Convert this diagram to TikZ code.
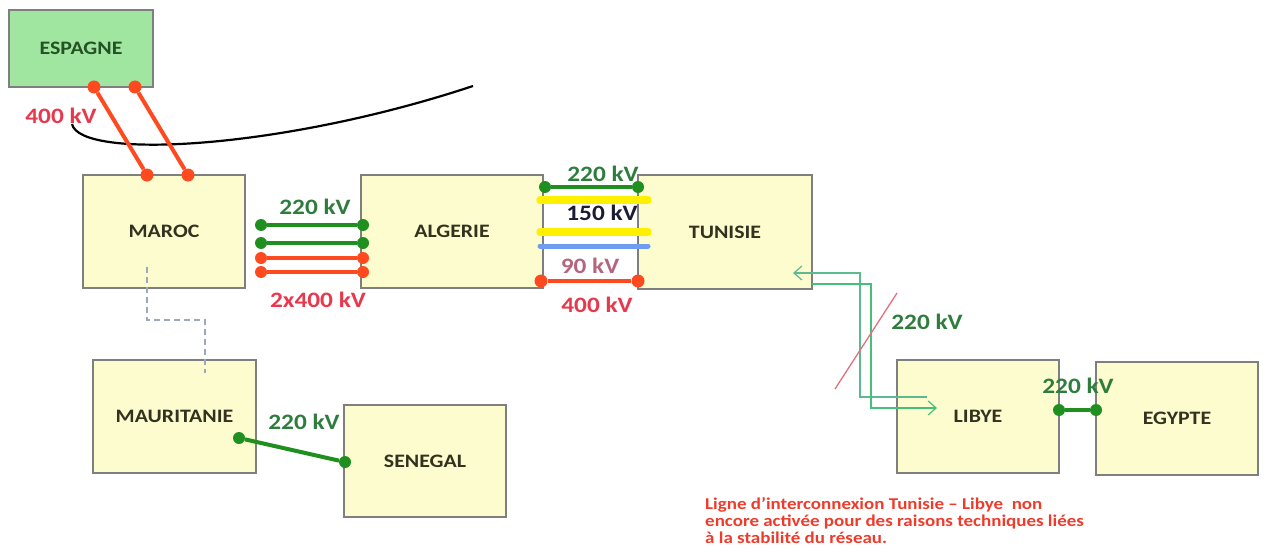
\documentclass[tikz,border=0pt]{standalone}
\usepackage{fontspec}
\setmainfont{Carlito}[FakeStretch=1.15]
\usetikzlibrary{arrows.meta,positioning,calc}
\definecolor{boxfill}{HTML}{FDFCCF}
\definecolor{boxline}{HTML}{7F7F7F}
\definecolor{spfill}{HTML}{A0E6A0}
\definecolor{boxtext}{HTML}{33321F}
\definecolor{sptext}{HTML}{245224}
\definecolor{hv}{HTML}{FF4A1F}
\definecolor{hvlab}{HTML}{E8384E}
\definecolor{mv}{HTML}{1F8F1F}
\definecolor{mvlab}{HTML}{2E7D3C}
\definecolor{yv}{HTML}{FFF000}
\definecolor{bv}{HTML}{6E9CF0}
\definecolor{lowlab}{HTML}{B5657E}
\definecolor{midlab}{HTML}{1B1B33}
\definecolor{dashc}{HTML}{9AA9BF}
\definecolor{arrA}{HTML}{5CBB8E}
\definecolor{arrB}{HTML}{45C07A}
\definecolor{cut}{HTML}{E0707E}
\definecolor{notec}{HTML}{EE3B2B}

\begin{document}
\begin{tikzpicture}[x=1pt,y=-1pt,
  pays/.style={draw=boxline,line width=1.5pt,fill=boxfill,minimum width=162pt,
               minimum height=113pt,inner sep=0pt,text=boxtext,
               font=\fontsize{19}{19}\selectfont\bfseries},
  kv/.style={inner sep=0pt,font=\fontsize{22}{22}\selectfont\bfseries},
  dotr/.style={circle,fill=hv,inner sep=0pt,minimum size=13pt},
  dotg/.style={circle,fill=mv,inner sep=0pt,minimum size=12pt},
  lr/.style={draw=hv,line width=4pt},
  lg/.style={draw=mv,line width=4pt},
  bar/.style={line width=7.5pt,line cap=round},
  pointille/.style={draw=dashc,line width=1.3pt,dash pattern=on 6pt off 4pt},
  fleche/.style={line width=1.2pt,-{Straight Barb[length=8pt,width=14pt]}}
]
\useasboundingbox (0,0) rectangle (1271,559);

% pays
\node[pays,fill=spfill,text=sptext,minimum width=144pt,minimum height=77pt] (espagne) at (81,48.5) {ESPAGNE};
\node[pays] (maroc) at (164,231.5) {MAROC};
\node[pays,minimum width=182pt] (algerie) at (452,231.5) {ALGERIE};
\node[pays,minimum width=174pt,minimum height=114pt] (tunisie) at (725,232) {TUNISIE};
\node[pays,minimum width=163pt] (mauritanie) at (174.5,416.5) {MAURITANIE};
\node[pays,minimum height=112pt] (senegal) at (425,461) {SENEGAL};
\node[pays] (libye) at (978,416.5) {LIBYE};
\node[pays] (egypte) at (1177,418.5) {EGYPTE};

% Maroc - Mauritanie (pointille)
\coordinate (d0) at (147,267);
\coordinate (d1) at (205,373);
\draw[pointille] (d0) -- (147,320) -- (205,320) -- (d1);

% trait noir
\coordinate (k0) at (72,124);
\coordinate (k1) at (473,86);
\draw[line width=2.2pt] (k0) .. controls (80,160) and (280,150) .. (k1);

% Espagne - Maroc
\node[dotr] (e1) at (94,87) {};
\node[dotr] (e2) at (135,87) {};
\node[dotr] (m1) at (147,175) {};
\node[dotr] (m2) at (188,175) {};
\draw[lr] (e1) -- (m1);
\draw[lr] (e2) -- (m2);
\node[kv,text=hvlab] (l400e) at (61,116) {400 kV};

% Maroc - Algerie
\foreach \y/\c [count=\i] in {225/mv,243/mv,258/hv,272/hv} {
  \node[circle,fill=\c,inner sep=0pt,minimum size=12pt] (ma\i) at (261,\y) {};
  \node[circle,fill=\c,inner sep=0pt,minimum size=12pt] (am\i) at (363,\y) {};
  \draw[draw=\c,line width=4pt] (ma\i) -- (am\i);
}
\node[kv,text=mvlab] (l220ma) at (315,207) {220 kV};
\node[kv,text=hvlab] (l400ma) at (318,300) {2x400 kV};

% Algerie - Tunisie
\coordinate (y1a) at (540,200); \coordinate (y1b) at (648,200);
\coordinate (y2a) at (540,232); \coordinate (y2b) at (648,232);
\coordinate (b1a) at (540,246); \coordinate (b1b) at (648,246);
\draw[bar,yv] (y1a) -- (y1b);
\draw[bar,yv] (y2a) -- (y2b);
\draw[bar,bv,line width=5pt] (b1a) -- (b1b);
\node[dotg] (at1) at (545,187) {};
\node[dotg] (ta1) at (638,187) {};
\draw[lg] (at1) -- (ta1);
\node[dotr] (at2) at (541,281) {};
\node[dotr] (ta2) at (638,281) {};
\draw[lr] (at2) -- (ta2);
\node[kv,text=mvlab] (l220at) at (603,174) {220 kV};
\node[kv,text=midlab] (l150at) at (602,213) {150 kV};
\node[kv,text=lowlab] (l90at) at (590,266) {90 kV};
\node[kv,text=hvlab] (l400at) at (597,305) {400 kV};

% Mauritanie - Senegal
\node[dotg] (ms1) at (239,438) {};
\node[dotg] (ms2) at (345,462) {};
\draw[lg] (ms1) -- (ms2);
\node[kv,text=mvlab] (l220ms) at (304,422) {220 kV};

% Tunisie - Libye
\coordinate (tA) at (793,273); \coordinate (lA) at (927,397);
\coordinate (tB) at (812,284); \coordinate (lB) at (937,408);
\draw[fleche,arrA,{Straight Barb[length=8pt,width=14pt]}-] (tA) -- (860,273) -- (860,397) -- (lA);
\draw[fleche,arrB] (tB) -- (871,284) -- (871,408) -- (lB);
\coordinate (c1) at (835,389); \coordinate (c2) at (897,293);
\draw[cut,line width=1.3pt] (c1) -- (c2);
\node[kv,text=mvlab] (l220tl) at (927,322) {220 kV};

% Libye - Egypte
\node[dotg] (le1) at (1059,410) {};
\node[dotg] (le2) at (1096,410) {};
\draw[lg] (le1) -- (le2);
\node[kv,text=mvlab] (l220le) at (1078,386) {220 kV};

% note
\node[anchor=north west,align=left,inner sep=0pt,text=notec,
      font=\fontsize{16.5}{17}\selectfont\bfseries] (note) at (705,497)
  {Ligne d’interconnexion Tunisie – Libye~~non\\
   encore activée pour des raisons techniques liées\\
   à la stabilité du réseau.};
\end{tikzpicture}
\end{document}
